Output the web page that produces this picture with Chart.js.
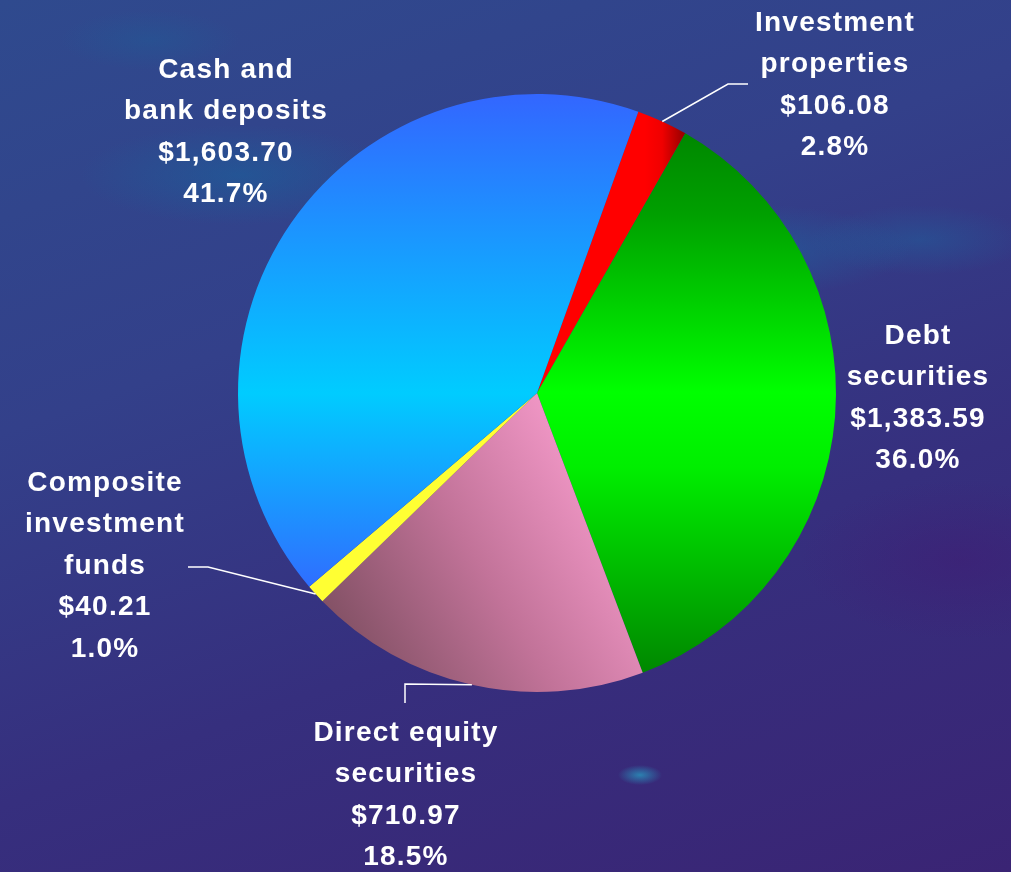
<!DOCTYPE html>
<html>
<head>
<meta charset="utf-8">
<script src="https://cdn.jsdelivr.net/npm/chart.js@4/dist/chart.umd.min.js"></script>
<style>
  html, body { margin: 0; padding: 0; }
  body {
    width: 1011px; height: 872px; overflow: hidden;
    background:
      radial-gradient(ellipse 150px 45px at 760px 250px, rgba(25,110,165,0.45), rgba(25,110,165,0) 100%),
      radial-gradient(ellipse 110px 35px at 920px 240px, rgba(25,110,165,0.35), rgba(25,110,165,0) 100%),
      radial-gradient(ellipse 160px 50px at 240px 175px, rgba(20,105,160,0.45), rgba(20,105,160,0) 100%),
      radial-gradient(ellipse 90px 30px at 150px 40px, rgba(25,100,155,0.3), rgba(25,100,155,0) 100%),
      radial-gradient(ellipse 22px 10px at 640px 775px, rgba(40,150,190,0.8), rgba(40,150,190,0) 100%),
      radial-gradient(ellipse 160px 80px at 960px 560px, rgba(65,25,115,0.45), rgba(65,25,115,0) 100%),
      linear-gradient(160deg, #2f4a8e 0%, #33408a 35%, #362f7e 65%, #3a2474 100%);
  }
  #wrap { position: absolute; left: 0; top: 0; width: 1011px; height: 872px; }
</style>
</head>
<body>
<div id="wrap"><canvas id="chart" width="1011" height="872"></canvas></div>
<script>
'use strict';

// order follows the pie clockwise, starting just right of 12 o'clock
const categories = ['Investment properties', 'Debt securities', 'Direct equity securities', 'Composite investment funds', 'Cash and bank deposits'];
const amounts = [106.08, 1383.59, 710.97, 40.21, 1603.70];
const amountLabels = ['$106.08', '$1,383.59', '$710.97', '$40.21', '$1,603.70'];
const percentLabels = ['2.8%', '36.0%', '18.5%', '1.0%', '41.7%'];
const nameLines = [
    ['Investment', 'properties'],
    ['Debt', 'securities'],
    ['Direct equity', 'securities'],
    ['Composite', 'investment', 'funds'],
    ['Cash and', 'bank deposits']
];

// label block placement (centre x, first line y) and leader elbows
const labelPos = [
    { x: 835, y: 23, leader: [[728, 84], [748, 84]] },
    { x: 918, y: 336, leader: null },
    { x: 406, y: 733, leader: [[405, 684], [405, 703]] },
    { x: 105, y: 483, leader: [[208, 567], [188, 567]] },
    { x: 226, y: 70, leader: null }
];

function fillFor(ctx) {
    const chart = ctx.chart;
    const a = chart.chartArea;
    if (!a) return '#888';
    const c = chart.ctx;
    const i = ctx.dataIndex;
    let g;
    if (i === 0) {
        g = c.createLinearGradient(645, 0, 688, 0);
        g.addColorStop(0, '#ff0000');
        g.addColorStop(0.4, '#f00000');
        g.addColorStop(1, '#880000');
        return g;
    }
    if (i === 1) {
        g = c.createLinearGradient(0, a.top + 40, 0, a.bottom - 20);
        g.addColorStop(0, '#008800');
        g.addColorStop(0.15, '#00a000');
        g.addColorStop(0.48, '#00ff00');
        g.addColorStop(0.62, '#00ee00');
        g.addColorStop(1, '#008800');
        return g;
    }
    if (i === 2) {
        g = c.createLinearGradient(340, 650, 620, 480);
        g.addColorStop(0, '#7f4f62');
        g.addColorStop(0.5, '#c27399');
        g.addColorStop(1, '#f79ccc');
        return g;
    }
    if (i === 3) return '#ffff33';
    g = c.createLinearGradient(0, a.top, 0, a.bottom);
    g.addColorStop(0, '#3366ff');
    g.addColorStop(0.5, '#00ccff');
    g.addColorStop(0.85, '#3366ff');
    g.addColorStop(1, '#3366ff');
    return g;
}

const labelPlugin = {
    id: 'sliceLabels',
    afterDatasetsDraw(chart) {
        const c = chart.ctx;
        const arcs = chart.getDatasetMeta(0).data;
        c.save();
        // leader lines from slice rim
        c.strokeStyle = '#ffffff';
        c.lineWidth = 1.5;
        arcs.forEach((arc, i) => {
            const p = labelPos[i];
            if (!p.leader) return;
            const mid = (arc.startAngle + arc.endAngle) / 2;
            const sx = arc.x + Math.cos(mid) * arc.outerRadius;
            const sy = arc.y + Math.sin(mid) * arc.outerRadius;
            c.beginPath();
            c.moveTo(sx, sy);
            p.leader.forEach(pt => c.lineTo(pt[0], pt[1]));
            c.stroke();
        });
        // text blocks
        c.fillStyle = '#ffffff';
        c.font = 'bold 28px "Liberation Sans", Arial, sans-serif';
        c.textAlign = 'center';
        c.textBaseline = 'middle';
        if ('letterSpacing' in c) c.letterSpacing = '1.2px';
        const lh = 41.5;
        categories.forEach((name, i) => {
            const p = labelPos[i];
            const lines = nameLines[i].concat([amountLabels[i], percentLabels[i]]);
            lines.forEach((t, k) => c.fillText(t, p.x, p.y + k * lh));
        });
        c.restore();
    }
};

new Chart(document.getElementById('chart'), {
    type: 'pie',
    data: {
        labels: categories,
        datasets: [{
            data: amounts,
            backgroundColor: fillFor,
            borderWidth: 0
        }]
    },
    options: {
        responsive: false,
        animation: false,
        rotation: 19.8,
        layout: { padding: { left: 238, right: 175, top: 94, bottom: 180 } },
        plugins: {
            legend: { display: false },
            tooltip: { enabled: false }
        }
    },
    plugins: [labelPlugin]
});
</script>
</body>
</html>
